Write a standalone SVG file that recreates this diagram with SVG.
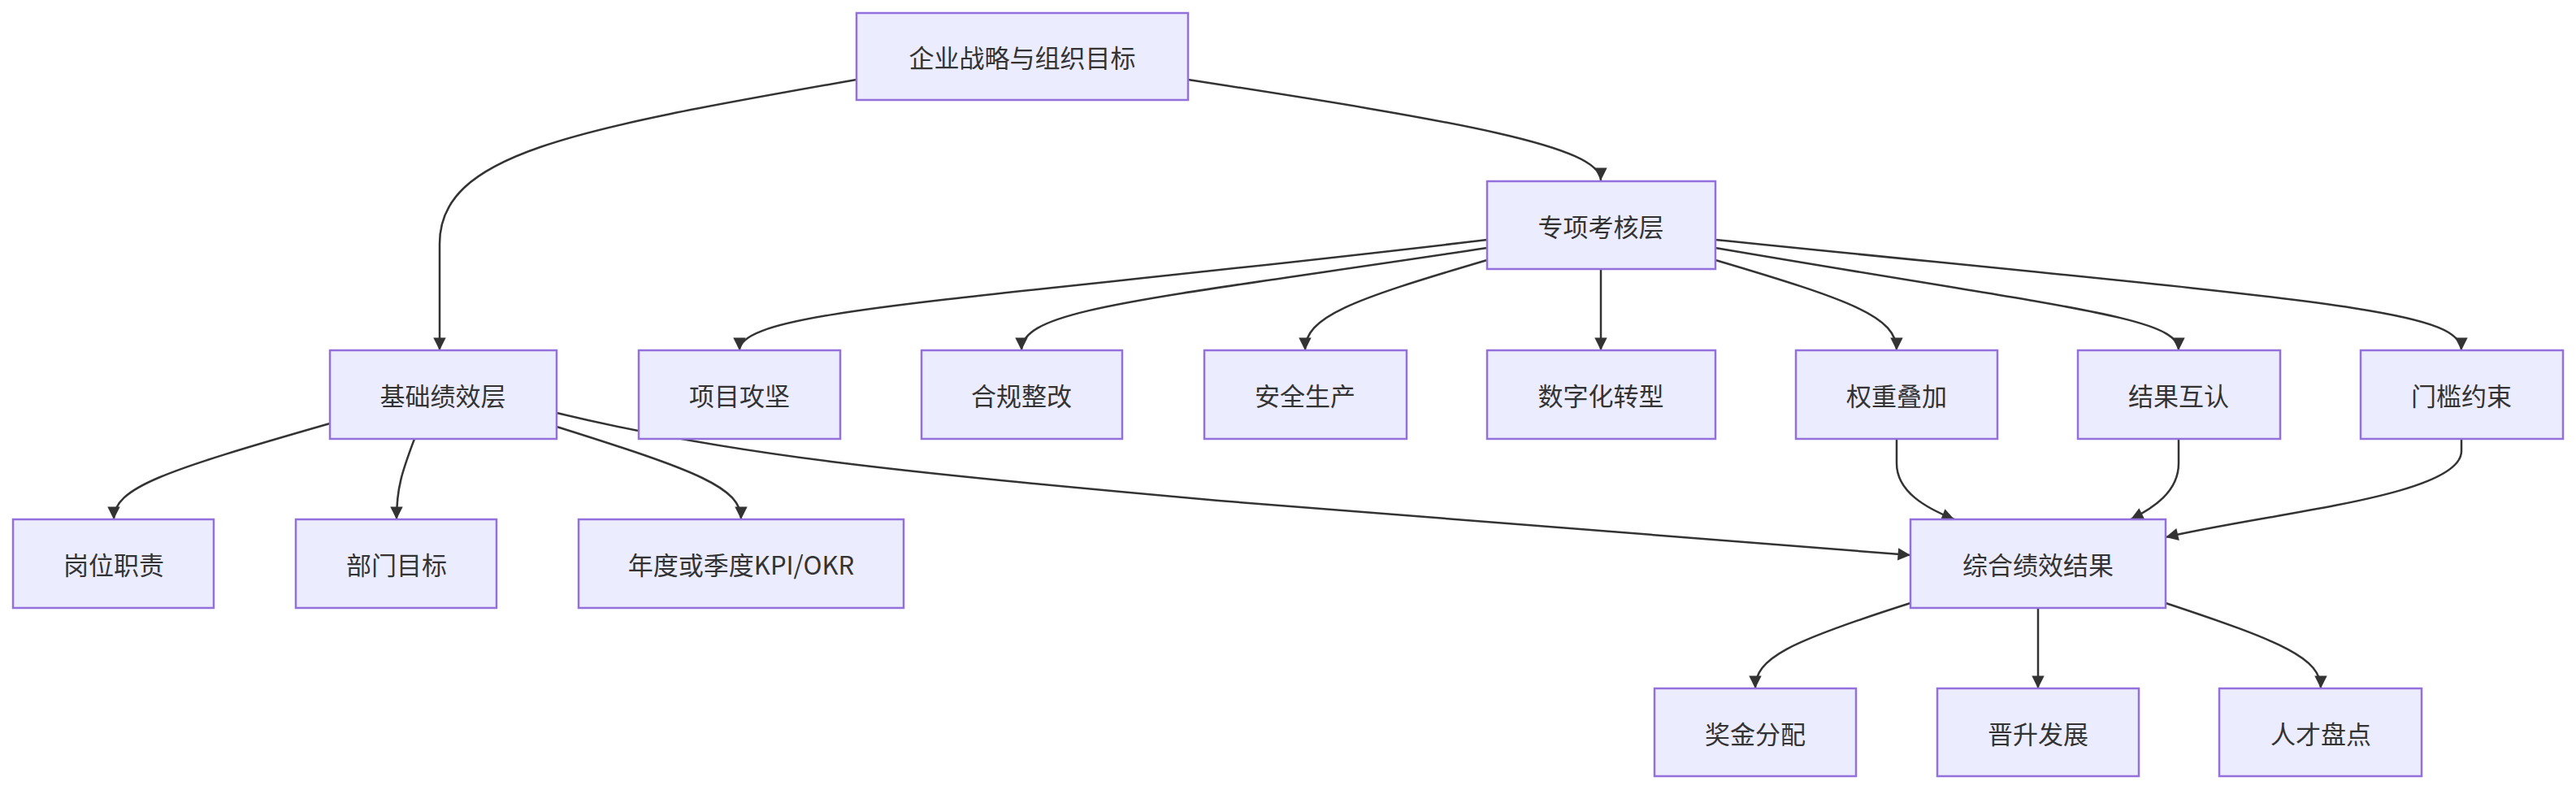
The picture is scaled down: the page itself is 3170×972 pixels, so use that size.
<svg xmlns="http://www.w3.org/2000/svg" width="3170" height="972" viewBox="0 0 3170 972">
<style>
.n rect{fill:#ECECFF;stroke:#9370DB;stroke-width:2.5}
.n text{font-family:"Noto Sans CJK SC","Liberation Sans",sans-serif;font-size:31px;fill:#333;text-anchor:middle;dominant-baseline:central}
.e path{fill:none;stroke:#333;stroke-width:2.5;marker-end:url(#a)}
</style>
<defs><marker id="a" viewBox="0 0 10 10" refX="10" refY="5" markerWidth="7" markerHeight="7" markerUnits="userSpaceOnUse" orient="auto" style="overflow:visible"><path d="M0,0 L10,5 L0,10 z" fill="#333" transform="scale(2.2) translate(-5.5,-2.7)"/></marker></defs>
<rect width="3170" height="972" fill="#fff"/>
<g class="e">
<path d="M1054,98 C700,160 541,190 541,300 L541,431"/>
<path d="M1462,98 C1800,150 1970,180 1970,222"/>
<path d="M1830,295 C1200,370 910,380 910,431"/>
<path d="M1830,305 C1400,370 1257,380 1257,431"/>
<path d="M1830,320 C1660,370 1606,390 1606,431"/>
<path d="M1970,332 L1970,431"/>
<path d="M2111,320 C2280,370 2334,390 2334,431"/>
<path d="M2111,305 C2550,380 2681,390 2681,431"/>
<path d="M2111,295 C2850,370 3029,380 3029,431"/>
<path d="M406,521 C200,580 140,600 140,639"/>
<path d="M510,540 C495,580 488,600 488,639"/>
<path d="M685,525 C860,580 912,600 912,639"/>
<path d="M685,508 C900,560 1100,580 1500,616 L2351,683"/>
<path d="M2334,540 L2334,570 C2334,605 2370,625 2405,639"/>
<path d="M2681,540 L2681,570 C2681,605 2650,625 2622,639"/>
<path d="M3029,540 L3029,555 C3029,610 2800,630 2665,661"/>
<path d="M2351,742 C2200,790 2160,810 2160,847"/>
<path d="M2508,748 L2508,847"/>
<path d="M2665,742 C2810,790 2856,810 2856,847"/>
</g>
<g class="n" id="n0"><rect x="1054" y="16" width="408" height="107"/><text x="1258" y="69">企业战略与组织目标</text></g>
<g class="n" id="n1"><rect x="1830" y="223" width="281" height="108"/><text x="1970" y="277">专项考核层</text></g>
<g class="n" id="n2"><rect x="406" y="431" width="279" height="109"/><text x="545" y="485">基础绩效层</text></g>
<g class="n" id="n3"><rect x="786" y="431" width="248" height="109"/><text x="910" y="485">项目攻坚</text></g>
<g class="n" id="n4"><rect x="1134" y="431" width="247" height="109"/><text x="1257" y="485">合规整改</text></g>
<g class="n" id="n5"><rect x="1482" y="431" width="249" height="109"/><text x="1606" y="485">安全生产</text></g>
<g class="n" id="n6"><rect x="1830" y="431" width="281" height="109"/><text x="1970" y="485">数字化转型</text></g>
<g class="n" id="n7"><rect x="2210" y="431" width="248" height="109"/><text x="2334" y="485">权重叠加</text></g>
<g class="n" id="n8"><rect x="2557" y="431" width="249" height="109"/><text x="2681" y="485">结果互认</text></g>
<g class="n" id="n9"><rect x="2905" y="431" width="249" height="109"/><text x="3029" y="485">门槛约束</text></g>
<g class="n" id="n10"><rect x="16" y="639" width="247" height="109"/><text x="140" y="693">岗位职责</text></g>
<g class="n" id="n11"><rect x="364" y="639" width="247" height="109"/><text x="488" y="693">部门目标</text></g>
<g class="n" id="n12"><rect x="712" y="639" width="400" height="109"/><text x="912" y="693">年度或季度KPI/OKR</text></g>
<g class="n" id="n13"><rect x="2351" y="639" width="314" height="109"/><text x="2508" y="693">综合绩效结果</text></g>
<g class="n" id="n14"><rect x="2036" y="847" width="248" height="108"/><text x="2160" y="901">奖金分配</text></g>
<g class="n" id="n15"><rect x="2384" y="847" width="248" height="108"/><text x="2508" y="901">晋升发展</text></g>
<g class="n" id="n16"><rect x="2731" y="847" width="249" height="108"/><text x="2856" y="901">人才盘点</text></g>
</svg>
